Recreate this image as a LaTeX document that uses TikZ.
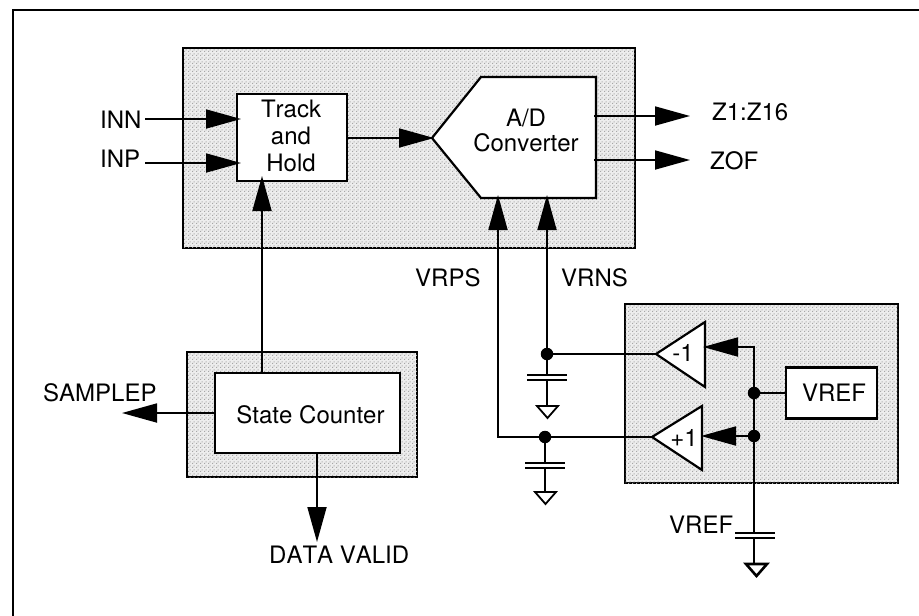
\documentclass[tikz,border=0pt]{standalone}
\usepackage{fontspec}
\setmainfont[Kerning=Off]{TeX Gyre Heros}
\usetikzlibrary{arrows.meta,patterns}
\pgfdeclarepatternformonly{ditherdots}{\pgfpointorigin}{\pgfpoint{4pt}{4pt}}{\pgfpoint{4pt}{4pt}}{
  \pgfpathrectangle{\pgfpoint{0pt}{0pt}}{\pgfpoint{1.4pt}{1.4pt}}
  \pgfpathrectangle{\pgfpoint{2pt}{2pt}}{\pgfpoint{1.4pt}{1.4pt}}
  \pgfusepath{fill}}
\tikzset{
  wire/.style={line width=1.8pt,black},
  arrowed/.style={wire,-{Triangle[length=35pt,width=19pt]},shorten >=-2pt},
  shaded block/.style={draw=black,line width=2.2pt,fill=white!93!black,postaction={pattern=ditherdots,pattern color=black!35}},
  whitebox/.style={draw=black,line width=2.2pt,fill=white,inner sep=0pt},
  txt/.style={inner sep=0pt,font=\fontsize{24}{27}\selectfont,anchor=base},
  mtxt/.style={txt,align=center},
  label text/.style={inner sep=0pt,font=\fontsize{24}{27}\selectfont,anchor=base west},
  joint/.style={circle,fill=black,inner sep=0pt,minimum size=12.5pt},
  plate/.style={line width=1.6pt,black},
  gnd/.style={draw=black,line width=1.8pt,fill=white,line join=miter}
}
\begin{document}
\begin{tikzpicture}[x=1pt,y=-1pt]
\useasboundingbox (0,0) rectangle (919,616);
% page frame
\draw[line width=2.5pt] (13,616) -- (13,10) -- (919,10);
% shaded blocks
\draw[shaded block] (183,48) rectangle (635,248);
\draw[shaded block] (187,352) rectangle (417,477);
\draw[shaded block] (625,304) rectangle (898,483);
% white boxes
\node[whitebox,minimum width=110pt,minimum height=87pt] (th) at (292,137.5) {};
\node[mtxt] (thtext) at (291,171) {Track\\and\\Hold};
\node[whitebox,minimum width=185pt,minimum height=80pt] (sc) at (307.5,413) {};
\node[txt] (sctext) at (310.5,423) {State Counter};
\node[whitebox,minimum width=91pt,minimum height=51pt] (vrefbox) at (831.5,393) {};
\node[txt] (vreftext) at (834,401) {VREF};
% A/D converter
\draw[draw=black,line width=2.2pt,fill=white,line join=miter] (432,138) -- (481,77) -- (596,77) -- (596,198) -- (481,198) -- cycle;
\coordinate (adctip) at (432,138);
\coordinate (adcvrp) at (498,198);
\coordinate (adcvrn) at (547,198);
\coordinate (adcz) at (594,116);
\coordinate (adco) at (594,160);
\node[txt,align=center,font=\fontsize{24}{25}\selectfont] (adc) at (526,151) {A/D\\Converter};
% amplifiers
\draw[draw=black,line width=2.2pt,fill=white,line join=miter] (656,354) -- (705,322) -- (705,387) -- cycle;
\draw[draw=black,line width=2.2pt,fill=white,line join=miter] (652,437) -- (702,406) -- (702,470) -- cycle;
\node[txt] (m1) at (683,361) {-1};
\node[txt] (p1) at (684,446) {+1};
\coordinate (m1tip) at (656,354);
\coordinate (p1tip) at (652,437);
\coordinate (m1in) at (705,347);
\coordinate (p1in) at (703,436);
% labels
\node[label text] (inn) at (100,128.5) {INN};
\node[label text] (inp) at (100,167) {INP};
\node[label text] (z) at (712,120) {Z1:Z16};
\node[label text] (zof) at (710,169) {ZOF};
\node[label text] (vrps) at (415,286) {VRPS};
\node[label text] (vrns) at (561,286) {VRNS};
\node[label text] (samplep) at (43,401) {SAMPLEP};
\node[label text] (dv) at (269,563) {DATA VALID};
\node[label text] (vreflab) at (669,533) {VREF};
% free ends
\coordinate (innS) at (145,119);
\coordinate (inpS) at (145,163);
\coordinate (innE) at (239,119);
\coordinate (inpE) at (239,163);
\coordinate (zE) at (688,116);
\coordinate (zofE) at (688,160);
\coordinate (sampE) at (124,413);
\coordinate (dvE) at (317,540);
\coordinate (thB) at (262,181);
\coordinate (scT) at (262,373);
\coordinate (scL) at (215,413);
\coordinate (scB) at (317,453);
% signal arrows
\draw[arrowed] (innS) -- (innE);
\draw[arrowed] (inpS) -- (inpE);
\draw[arrowed] (th.east |- adctip) -- (adctip);
\draw[arrowed] (scT) -- ([yshift=3pt]thB);
\draw[arrowed] (adcz) -- (zE);
\draw[arrowed] (adco) -- (zofE);
\draw[arrowed] (scL) -- (sampE);
\draw[arrowed] (scB) -- (dvE);
% junctions
\node[joint] (j1) at (547,354) {};
\node[joint] (j2) at (545,437) {};
\node[joint] (j3) at (754,393) {};
\node[joint] (j4) at (754,436) {};
% reference wiring
\draw[arrowed] (j1.center) -- ([yshift=1pt]adcvrn);
\draw[arrowed] (j2.center) -| ([yshift=1pt]adcvrp);
\draw[wire] (j1.center) -- (m1tip);
\draw[wire] (j2.center) -- (p1tip);
\draw[wire] (vrefbox.west) -- (j3.center);
\draw[arrowed] (j4.center) -- (p1in);
\coordinate (c3t) at (754,533);
\coordinate (c3b) at (754,537);
\draw[arrowed] (c3t) -- (754,347) -- (m1in);
% capacitors and grounds
\coordinate (c1t) at (547,375);
\coordinate (c1b) at (547,380);
\coordinate (g1) at (547,406);
\coordinate (c2t) at (545,463);
\coordinate (c2b) at (545,467);
\coordinate (g2) at (545,492);
\draw[wire] (j1.center) -- (c1t);
\draw[wire] (c1b) -- (g1);
\draw[wire] (j2.center) -- (c2t);
\draw[wire] (c2b) -- (g2);
\draw[wire] (c3b) -- (754,563);
\draw[plate] (527,375) -- (567,375) (527,380) -- (567,380);
\draw[plate] (525,463) -- (565,463) (525,468) -- (565,468);
\draw[plate] (735,533) -- (775,533) (735,538) -- (775,538);
\draw[gnd] (537,406) -- (558,406) -- (547.5,418) -- cycle;
\draw[gnd] (535,492) -- (556,492) -- (545.5,504) -- cycle;
\draw[gnd,line width=2.6pt] (746,564) -- (767,564) -- (756.5,576) -- cycle;
\end{tikzpicture}
\end{document}
